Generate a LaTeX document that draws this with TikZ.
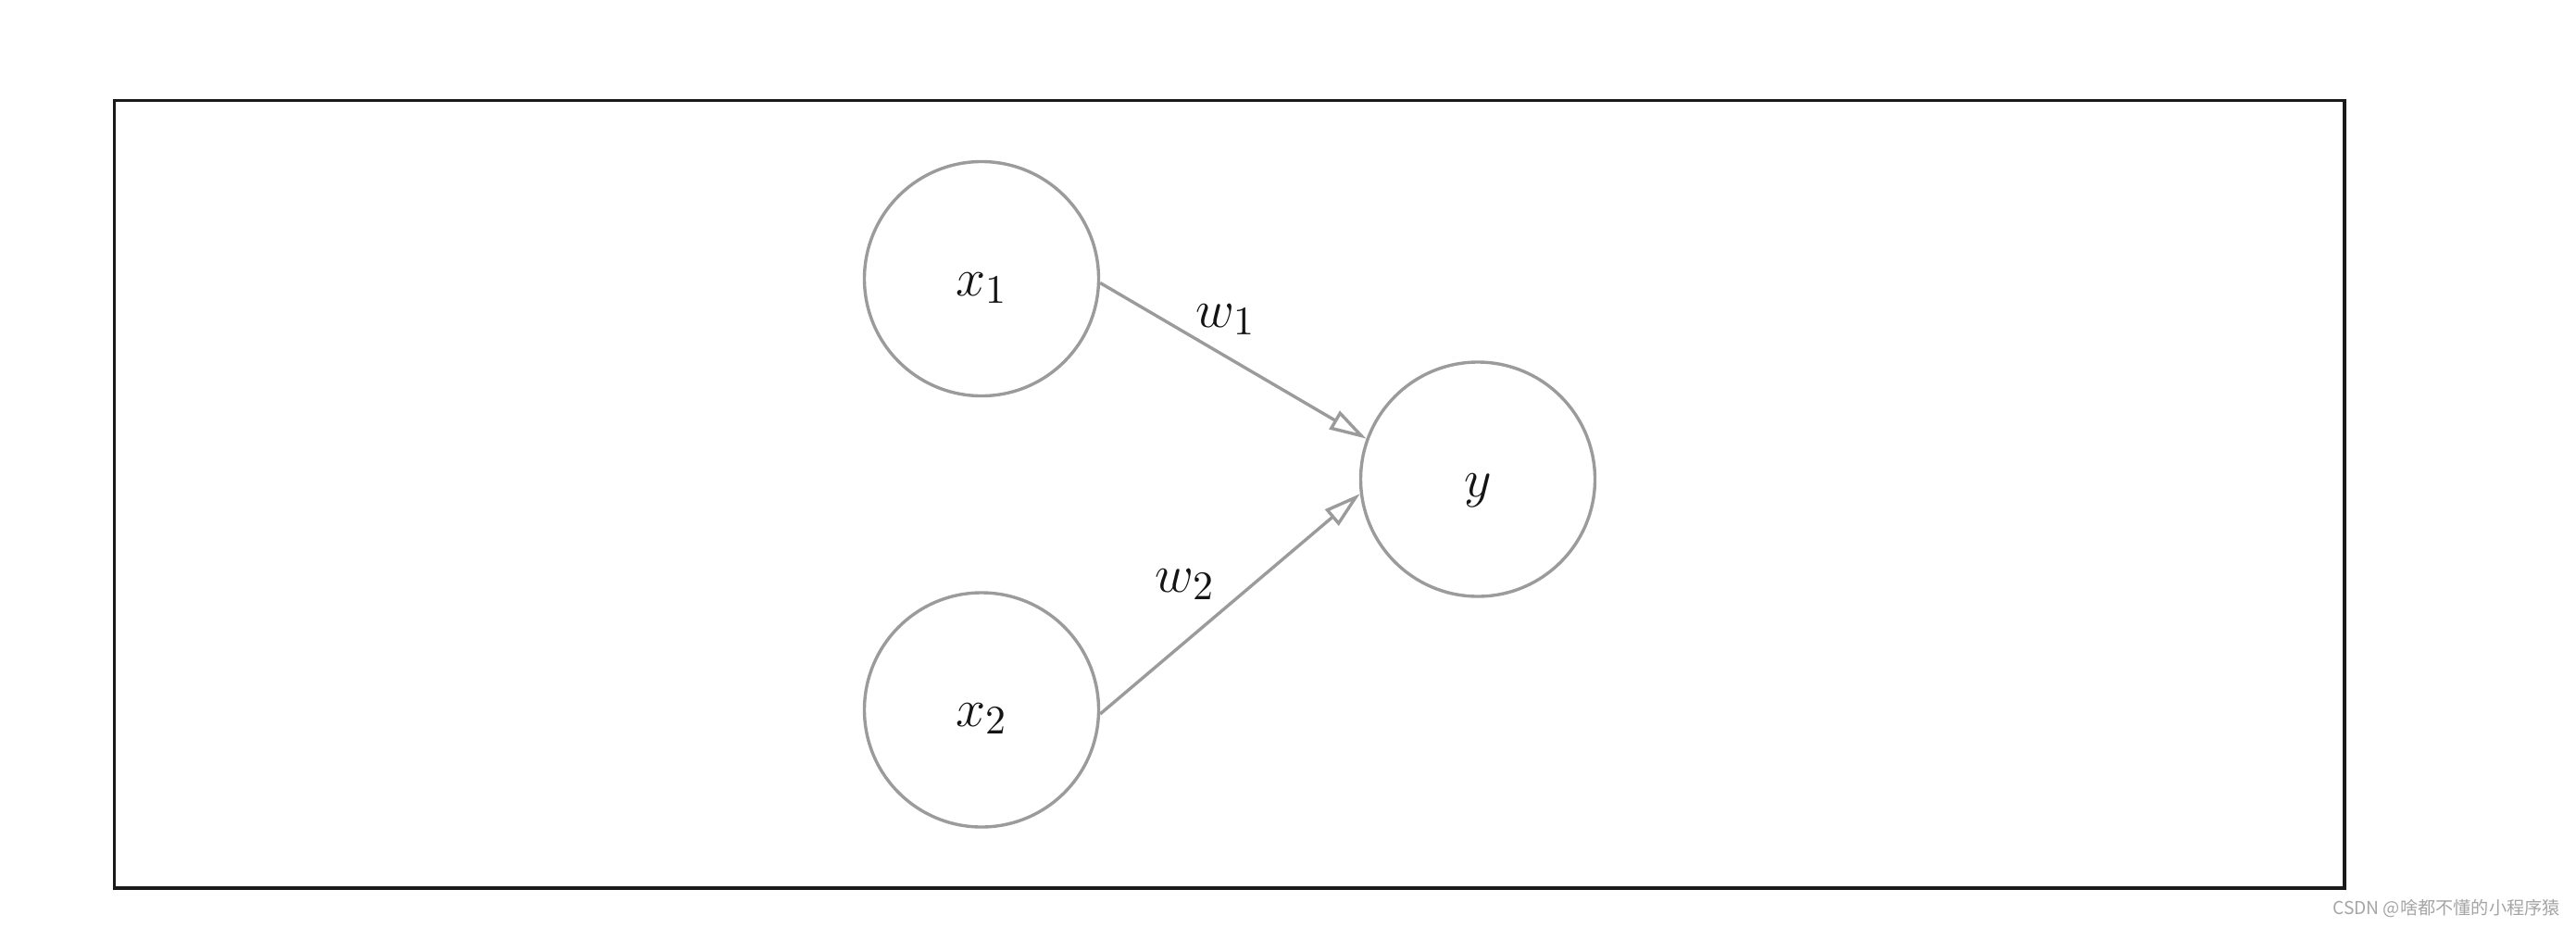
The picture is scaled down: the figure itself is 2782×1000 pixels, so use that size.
\documentclass[tikz,border=0pt]{standalone}
\usepackage{fontspec}
\newfontfamily\cjk{Noto Sans CJK SC}
\usetikzlibrary{arrows.meta}
\definecolor{nodegray}{RGB}{155,155,155}
\definecolor{boxblack}{RGB}{26,26,26}
\definecolor{wmgray}{RGB}{165,165,165}
\begin{document}
\begin{tikzpicture}[x=0.25pt,y=0.25pt,
  neuron/.style={circle,draw=nodegray,line width=0.85pt,minimum size=63.25pt,inner sep=0pt},
  lbl/.style={anchor=base,inner sep=0pt,text=black!92,font=\fontsize{15.5}{18}\selectfont},
  conn/.style={draw=nodegray,line width=0.85pt,-{Triangle[open,length=10pt,width=5.6pt]}}]
\useasboundingbox (0,0) rectangle (2782,1000);
\draw[boxblack,line width=0.95pt] (123.5,891.5) rectangle (2532,41);
\node[neuron] (x1) at (1060,699) {};
\node[neuron] (x2) at (1060,233.5) {};
\node[neuron] (y) at (1596,482.5) {};
\node[lbl] (lx1) at (1060,681) {$x_1$};
\node[lbl] (lx2) at (1060,216) {$x_2$};
\node[lbl] (ly) at (1596,464) {$y$};
\node[lbl] (lw1) at (1324,647) {$w_1$};
\node[lbl] (lw2) at (1280,361) {$w_2$};
\draw[conn] (x1.-2) -- (y.160);
\draw[conn] (x2.-2) -- (y.187.5);
\node[anchor=base,inner sep=0pt,text=wmgray,font=\cjk\fontsize{4.8}{6}\selectfont] (wm) at (2642,13) {CSDN @啥都不懂的小程序猿};
\end{tikzpicture}
\end{document}
